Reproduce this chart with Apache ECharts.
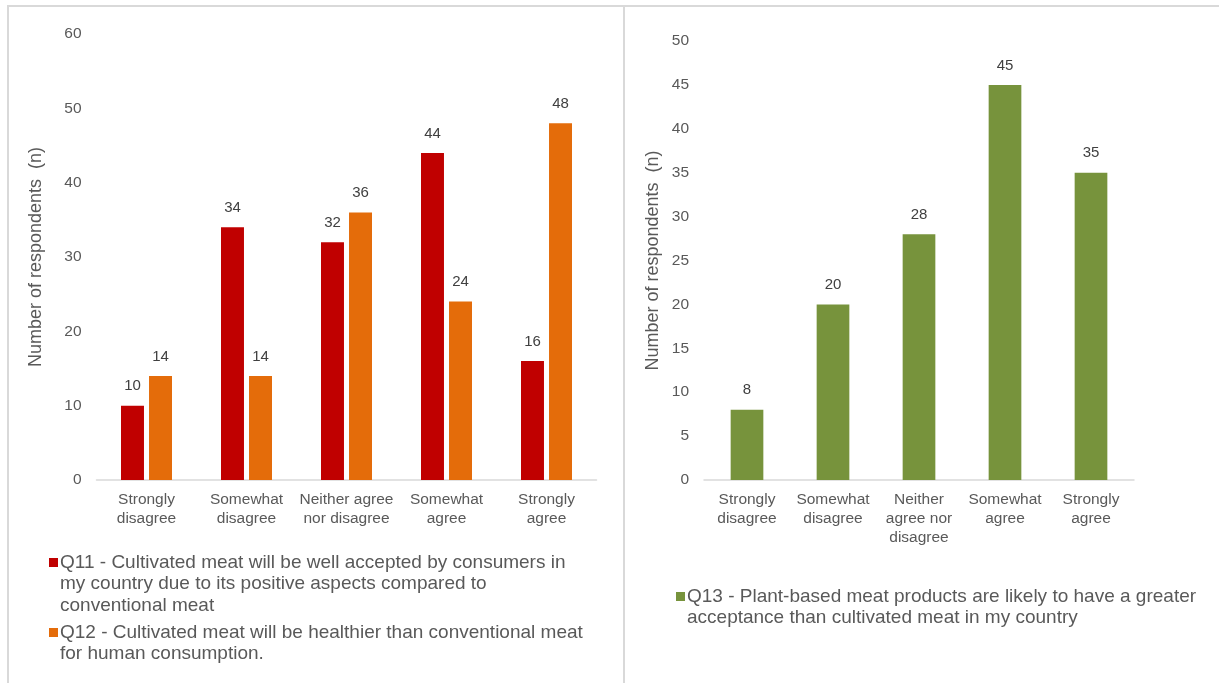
<!DOCTYPE html>
<html>
<head>
<meta charset="utf-8">
<title>Cultivated meat survey responses</title>
<script src="https://cdn.jsdelivr.net/npm/echarts@6/dist/echarts.min.js"></script>
<style>
  html, body { margin: 0; padding: 0; background: #ffffff; }
  #chart { width: 1219px; height: 683px; }
</style>
</head>
<body>
<div id="chart"></div>
<script>
// Response scale, wrapped differently for each panel
const categoriesLeft = ['Strongly\ndisagree', 'Somewhat\ndisagree', 'Neither agree\nnor disagree', 'Somewhat\nagree', 'Strongly\nagree'];
const categoriesRight = ['Strongly\ndisagree', 'Somewhat\ndisagree', 'Neither\nagree nor\ndisagree', 'Somewhat\nagree', 'Strongly\nagree'];

// Number of respondents per answer
const q11Values = [10, 34, 32, 44, 16];
const q12Values = [14, 14, 36, 24, 48];
const q13Values = [8, 20, 28, 45, 35];

// Legend captions
const q11Name = 'Q11 - Cultivated meat will be well accepted by consumers in\nmy country due to its positive aspects compared to\nconventional meat';
const q12Name = 'Q12 - Cultivated meat will be healthier than conventional meat\nfor human consumption.';
const q13Name = 'Q13 - Plant-based meat products are likely to have a greater\nacceptance than cultivated meat in my country';

const yAxisTitle = 'Number of respondents  (n)';

const COLORS = { q11: '#C00000', q12: '#E46C0A', q13: '#77933C' };
const FONT = 'Liberation Sans, Arial, sans-serif';
const AXIS_TEXT = '#595959';
const LABEL_TEXT = '#404040';
const BORDER = '#D9D9D9';

const chart = echarts.init(document.getElementById('chart'), null, { renderer: 'canvas' });

function valueLabel() {
  return { show: true, position: 'top', distance: 12, color: LABEL_TEXT, fontSize: 15, fontFamily: FONT };
}

function categoryAxis(gridIndex, data) {
  return {
    type: 'category',
    gridIndex: gridIndex,
    data: data,
    axisLine: { show: true, lineStyle: { color: BORDER, width: 1.5 } },
    axisTick: { show: false },
    axisLabel: { color: AXIS_TEXT, fontSize: 15.5, fontFamily: FONT, lineHeight: 19, margin: 10, interval: 0 },
    splitLine: { show: false }
  };
}

function valueAxis(gridIndex, max, interval, nameGap) {
  return {
    type: 'value',
    gridIndex: gridIndex,
    min: 0,
    max: max,
    interval: interval,
    name: yAxisTitle,
    nameLocation: 'middle',
    nameGap: nameGap,
    nameTextStyle: { color: AXIS_TEXT, fontSize: 18, fontFamily: FONT },
    axisLine: { show: false },
    axisTick: { show: false },
    axisLabel: { color: AXIS_TEXT, fontSize: 15.5, fontFamily: FONT, margin: 15 },
    splitLine: { show: false }
  };
}

// Legend block: coloured square next to wrapped caption
function legendEntry(x, y, color, text) {
  return [
    { type: 'rect', left: x, top: y + 6, shape: { width: 9, height: 9 }, style: { fill: color }, silent: true },
    { type: 'text', left: x + 11, top: y, style: { text: text, fill: AXIS_TEXT, fontSize: 19, fontFamily: FONT, lineHeight: 21.5 }, silent: true }
  ];
}

const option = {
  backgroundColor: '#ffffff',
  animation: false,
  textStyle: { fontFamily: FONT },
  grid: [
    { left: 96.5, top: 34, width: 500, height: 446 },
    { left: 704, top: 41, width: 430, height: 439 }
  ],
  xAxis: [categoryAxis(0, categoriesLeft), categoryAxis(1, categoriesRight)],
  yAxis: [valueAxis(0, 60, 10, 51), valueAxis(1, 50, 5, 42)],
  series: [
    {
      name: 'Q11', type: 'bar', xAxisIndex: 0, yAxisIndex: 0, data: q11Values,
      itemStyle: { color: COLORS.q11 }, barGap: '22%', barCategoryGap: '49%', label: valueLabel()
    },
    {
      name: 'Q12', type: 'bar', xAxisIndex: 0, yAxisIndex: 0, data: q12Values,
      itemStyle: { color: COLORS.q12 }, barGap: '22%', barCategoryGap: '49%', label: valueLabel()
    },
    {
      name: 'Q13', type: 'bar', xAxisIndex: 1, yAxisIndex: 1, data: q13Values,
      itemStyle: { color: COLORS.q13 }, barCategoryGap: '62%', label: valueLabel()
    }
  ],
  graphic: [
    // panel frames
    { type: 'line', shape: { x1: 7, y1: 6, x2: 1219, y2: 6 }, style: { stroke: BORDER, lineWidth: 2 }, silent: true },
    { type: 'line', shape: { x1: 8, y1: 6, x2: 8, y2: 683 }, style: { stroke: BORDER, lineWidth: 2 }, silent: true },
    { type: 'line', shape: { x1: 624, y1: 6, x2: 624, y2: 683 }, style: { stroke: BORDER, lineWidth: 2 }, silent: true },
    ...legendEntry(49, 552, COLORS.q11, q11Name),
    ...legendEntry(49, 622, COLORS.q12, q12Name),
    ...legendEntry(676, 586, COLORS.q13, q13Name)
  ]
};

chart.setOption(option);
</script>
</body>
</html>
